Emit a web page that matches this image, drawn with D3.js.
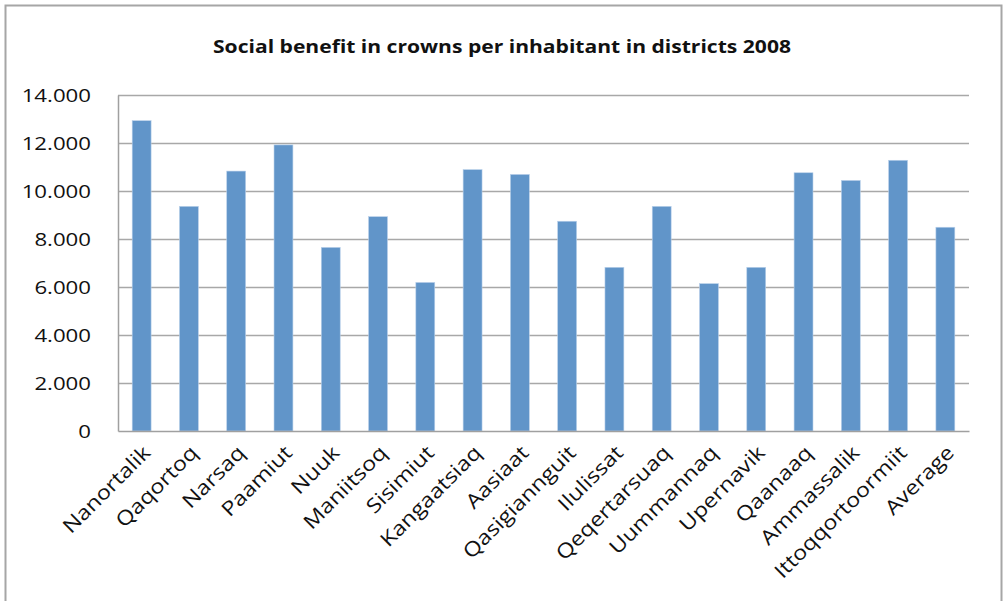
<!DOCTYPE html>
<html>
<head>
<meta charset="utf-8">
<script src="https://cdn.jsdelivr.net/npm/d3@7"></script>
<style>
  body { margin: 0; background: #fff; }
  text { font-family: "Open Sans", sans-serif; fill: #111; }
</style>
</head>
<body>
<div id="chart"></div>
<script>
var districts = ["Nanortalik", "Qaqortoq", "Narsaq", "Paamiut", "Nuuk", "Maniitsoq",
    "Sisimiut", "Kangaatsiaq", "Aasiaat", "Qasigiannguit", "Ilulissat", "Qeqertarsuaq",
    "Uummannaq", "Upernavik", "Qaanaaq", "Ammassalik", "Ittoqqortoormiit", "Average"];
var benefit = [12930, 9360, 10830, 11920, 7650, 8930,
    6190, 10890, 10690, 8740, 6820, 9360,
    6140, 6820, 10760, 10440, 11280, 8490];
var yTicks = [0, 2000, 4000, 6000, 8000, 10000, 12000, 14000];
var title = "Social benefit in crowns per inhabitant in districts 2008";

var fullwidth = 1006, fullheight = 601;
var margin = {top: 95, right: 37, bottom: 170, left: 118};
var width = fullwidth - margin.left - margin.right;
var height = fullheight - margin.top - margin.bottom;
var stretch = 1.17; // text in the picture is a bit wider than it is tall

var data = districts.map(function(d, i) { return {district: d, value: benefit[i]}; });

var vis = d3.select("#chart").append("svg")
    .attr("width", fullwidth)
    .attr("height", fullheight);

// outer frame
vis.append("rect")
    .attr("x", 5.5).attr("y", 5.5)
    .attr("width", 996).attr("height", 610)
    .attr("fill", "none")
    .attr("stroke", "#a6a6a6")
    .attr("stroke-width", 2);

vis.append("text")
    .attr("x", 502)
    .attr("y", 53)
    .attr("text-anchor", "middle")
    .style("font-size", "17px")
    .style("font-weight", "bold")
    .attr("textLength", 578)
    .attr("lengthAdjust", "spacingAndGlyphs")
    .text(title);

var svg = vis.append("g")
    .attr("transform", "translate(" + margin.left + "," + margin.top + ")");

var xScale = d3.scaleBand()
    .domain(districts)
    .range([0, width])
    .paddingInner(0.6)
    .paddingOuter(0.3);

var yScale = d3.scaleLinear()
    .domain([0, 14000])
    .range([height, 0]);

// gridlines
svg.selectAll("line.grid")
    .data(yTicks.slice(1))
    .enter().append("line")
    .attr("class", "grid")
    .attr("x1", 0).attr("x2", width)
    .attr("y1", function(d) { return Math.round(yScale(d)) + 0.5; })
    .attr("y2", function(d) { return Math.round(yScale(d)) + 0.5; })
    .attr("stroke", "#a8a8a8")
    .attr("stroke-width", 1.5);

// y axis
var yAxis = d3.axisLeft(yScale)
    .tickValues(yTicks)
    .tickSize(0)
    .tickPadding(27)
    .tickFormat(function(d) { return d === 0 ? "0" : d3.format(",")(d).replace(",", "."); });

svg.append("g")
    .attr("class", "y axis")
    .call(yAxis)
    .call(function(g) {
        g.select(".domain").attr("stroke", "#a0a0a0").attr("stroke-width", 1.5);
        g.selectAll("text")
            .style("font-size", "19px")
            .style("font-family", "'Open Sans', sans-serif")
            .attr("fill", "#111")
            .attr("x", 0)
            .attr("dy", "0.35em")
            .attr("transform", "translate(-27,0) scale(" + stretch + ",1)");
    });

// bars
svg.selectAll("rect.bar")
    .data(data)
    .enter().append("rect")
    .attr("class", "bar")
    .attr("x", function(d) { return xScale(d.district); })
    .attr("width", xScale.bandwidth())
    .attr("y", function(d) { return yScale(d.value); })
    .attr("height", function(d) { return height - yScale(d.value); })
    .attr("fill", "#6195c9")
    .attr("stroke", "#b9d0ea")
    .attr("stroke-width", 0.6);

// x axis
var xAxis = d3.axisBottom(xScale).tickSize(0).tickPadding(0);

svg.append("g")
    .attr("class", "x axis")
    .attr("transform", "translate(0," + height + ")")
    .call(xAxis)
    .call(function(g) {
        g.select(".domain").attr("stroke", "#a0a0a0").attr("stroke-width", 1.5);
        g.selectAll("text")
            .style("font-size", "20px")
            .style("font-family", "'Open Sans', sans-serif")
            .attr("fill", "#111")
            .attr("text-anchor", "end")
            .attr("dy", "0")
            .attr("y", 0)
            .attr("transform", "translate(10,23) rotate(-45) scale(" + stretch + ",1)");
    });
</script>
</body>
</html>
